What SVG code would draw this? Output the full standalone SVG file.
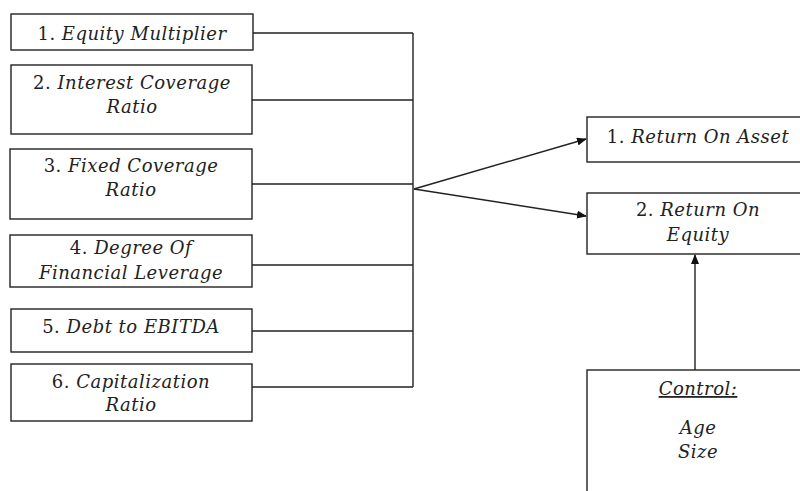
<svg xmlns="http://www.w3.org/2000/svg" width="800" height="491" viewBox="0 0 800 491">
<defs>
<style>
.box{fill:#fff;stroke:#222;stroke-width:1.4}
.t{font-family:"DejaVu Serif","Liberation Serif",serif;font-size:18px;letter-spacing:0.5px;font-style:italic;fill:#222;text-anchor:middle}
.n{font-style:normal}
.c{fill:none;stroke:#222;stroke-width:1.4}
</style>
<marker id="ah" markerWidth="10" markerHeight="8" refX="9" refY="4" orient="auto" markerUnits="userSpaceOnUse">
<path d="M0,0 L10,4 L0,8 z" fill="#111"/>
</marker>
</defs>
<rect width="800" height="491" fill="#fff"/>
<g id="connectors">
<path class="c" d="M253,33 H413 M252,100 H413 M252,184 H413 M252,265 H413 M252,331 H413 M252,387 H413 M413,33 V387"/>
<line class="c" x1="414" y1="189" x2="586" y2="139" marker-end="url(#ah)"/>
<line class="c" x1="414" y1="189" x2="586" y2="216" marker-end="url(#ah)"/>
<line class="c" x1="695" y1="370" x2="695" y2="255" marker-end="url(#ah)"/>
</g>
<g id="n1"><rect class="box" x="11" y="14" width="242" height="36"/><text class="t" x="132" y="40"><tspan class="n">1. </tspan>Equity Multiplier</text></g>
<g id="n2"><rect class="box" x="11" y="65" width="241" height="69"/><text class="t" x="132" y="89"><tspan class="n">2. </tspan>Interest Coverage</text><text class="t" x="132" y="113">Ratio</text></g>
<g id="n3"><rect class="box" x="10" y="149" width="242" height="70"/><text class="t" x="131" y="172"><tspan class="n">3. </tspan>Fixed Coverage</text><text class="t" x="131" y="196">Ratio</text></g>
<g id="n4"><rect class="box" x="10" y="235" width="242" height="52"/><text class="t" x="131" y="254"><tspan class="n">4. </tspan>Degree Of</text><text class="t" x="131" y="279">Financial Leverage</text></g>
<g id="n5"><rect class="box" x="11" y="309" width="241" height="43"/><text class="t" x="131" y="333"><tspan class="n">5. </tspan>Debt to EBITDA</text></g>
<g id="n6"><rect class="box" x="11" y="364" width="241" height="57"/><text class="t" x="131" y="388"><tspan class="n">6. </tspan>Capitalization</text><text class="t" x="131" y="411">Ratio</text></g>
<g id="r1"><rect class="box" x="587" y="117" width="222" height="45"/><text class="t" x="698" y="143"><tspan class="n">1. </tspan>Return On Asset</text></g>
<g id="r2"><rect class="box" x="587" y="193" width="222" height="61"/><text class="t" x="698" y="216"><tspan class="n">2. </tspan>Return On</text><text class="t" x="698" y="241">Equity</text></g>
<g id="ctrl"><rect class="box" x="587" y="370" width="222" height="130"/><text class="t" x="698" y="395" text-decoration="underline">Control:</text><text class="t" x="698" y="434">Age</text><text class="t" x="698" y="458">Size</text></g>
</svg>
